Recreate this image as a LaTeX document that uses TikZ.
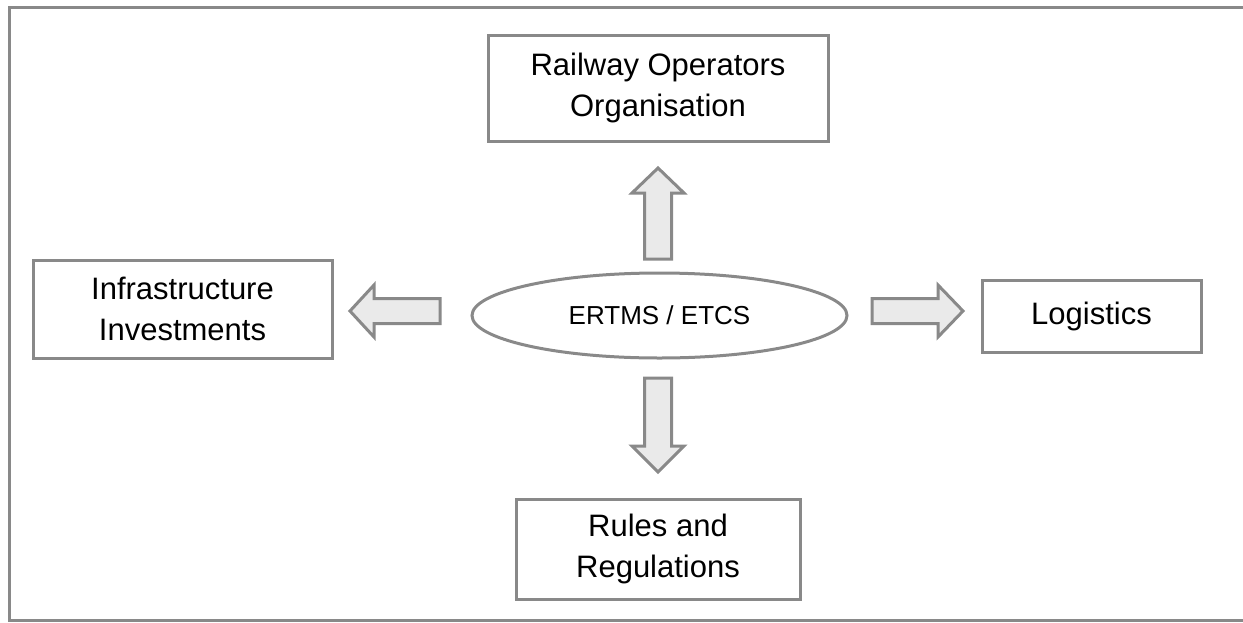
\documentclass[tikz,border=0pt]{standalone}
\usepackage{fontspec}
\setmainfont{Liberation Sans}
\definecolor{linegray}{HTML}{898989}
\definecolor{arrowfill}{HTML}{EAEAEA}
\begin{document}
\begin{tikzpicture}[x=1pt,y=-1pt,
  frameline/.style={draw=linegray, line width=3pt},
  box/.style={draw=linegray, line width=3pt, fill=white, align=center,
    inner sep=0pt, font=\fontsize{31}{41}\selectfont},
  hub/.style={draw=linegray, line width=3pt, ellipse, inner sep=0pt,
    font=\fontsize{26}{30}\selectfont},
  blockarrow/.style={draw=linegray, fill=arrowfill, line width=3pt, line join=miter}]
\useasboundingbox (0,0) rectangle (1243,622);
% outer frame, running off the right edge
\begin{scope}
  \clip (0,0) rectangle (1243,622);
  \draw[frameline] (9.5,7.5) rectangle (1270,620.5);
\end{scope}

% central ellipse
\draw[draw=linegray, line width=3pt] (659.5,315.5) ellipse [x radius=187.5, y radius=42.5];
\node[font=\fontsize{26}{30}\selectfont] (hub) at (659.5,315.5) {ERTMS / ETCS};

% surrounding boxes
\node[box, minimum width=340, minimum height=106] (rail) at (658,88) {Railway Operators\\Organisation};
\node[box, minimum width=299, minimum height=98] (infra) at (182.5,309) {Infrastructure\\Investments};
\node[box, minimum width=219, minimum height=72] (logi) at (1091.5,316) {Logistics};
\node[box, minimum width=284, minimum height=100] (rules) at (658,549) {Rules and\\Regulations};

% block arrows pointing outwards from the hub
\draw[blockarrow] (658,168) -- (684,193) -- (671.5,193) -- (671.5,259) -- (644.5,259) -- (644.5,193) -- (632,193) -- cycle;
\draw[blockarrow] (658,472) -- (684,446) -- (671.5,446) -- (671.5,378) -- (644.5,378) -- (644.5,446) -- (632,446) -- cycle;
\draw[blockarrow] (350,311) -- (374,285) -- (374,298.5) -- (440,298.5) -- (440,323.5) -- (374,323.5) -- (374,337) -- cycle;
\draw[blockarrow] (963,311) -- (938,285) -- (938,298.5) -- (872,298.5) -- (872,323.5) -- (938,323.5) -- (938,337) -- cycle;
\end{tikzpicture}
\end{document}
